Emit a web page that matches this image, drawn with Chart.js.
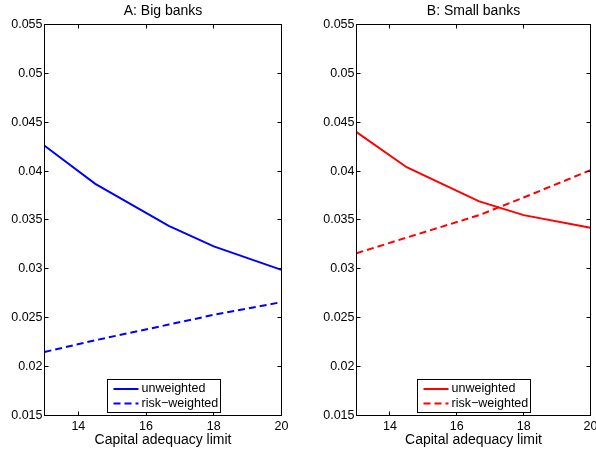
<!DOCTYPE html>
<html><head><meta charset="utf-8">
<script src="https://cdn.jsdelivr.net/npm/chart.js@4"></script>
<style>
html,body{margin:0;padding:0;overflow:hidden;background:#fff;width:596px;height:455px;position:relative}
canvas{position:absolute;top:0}
</style></head>
<body>
<canvas id="cA" width="298" height="455" style="left:0;width:298px;height:455px"></canvas>
<canvas id="cB" width="312" height="455" style="left:298px;width:312px;height:455px"></canvas>
<script>
// ---- data ----
const capitalLimit = [13, 14.5, 16.67, 18, 20];
const bigUnweighted = [0.0426, 0.0387, 0.0344, 0.0323, 0.0299];
const bigRiskWeighted = [0.0215, 0.0227, 0.0243, 0.0253, 0.0266];
const smallUnweighted = [0.0440, 0.0404, 0.0369, 0.0355, 0.0342];
const smallRiskWeighted = [0.0316, 0.0332, 0.0355, 0.0373, 0.0401];
const xTicks = [14, 16, 18, 20];
const yTicks = [0.015, 0.02, 0.025, 0.03, 0.035, 0.04, 0.045, 0.05, 0.055];
const yTickLabels = ['0.015','0.02','0.025','0.03','0.035','0.04','0.045','0.05','0.055'];
const panelTitles = ['A: Big banks', 'B: Small banks'];
const seriesLabels = ['unweighted', 'risk\u2212weighted'];
const xAxisTitle = 'Capital adequacy limit';

const FONT = '"Liberation Sans", Arial, Helvetica, sans-serif';
const DASH = [7, 4];

const framePlugin = {
  id: 'frame',
  afterDraw(chart, args, opts) {
    const {ctx, chartArea: a, scales: {x, y}} = chart;
    ctx.save();
    ctx.strokeStyle = '#000';
    ctx.lineWidth = 1;
    ctx.setLineDash([]);
    ctx.strokeRect(a.left, a.top, a.right - a.left, a.bottom - a.top);
    const tl = 4;
    ctx.beginPath();
    xTicks.forEach(v => {
      const px = Math.round(x.getPixelForValue(v) - 0.5) + 0.5;
      ctx.moveTo(px, a.bottom); ctx.lineTo(px, a.bottom - tl);
      ctx.moveTo(px, a.top); ctx.lineTo(px, a.top + tl);
    });
    yTicks.forEach(v => {
      const py = Math.round(y.getPixelForValue(v) - 0.5) + 0.5;
      ctx.moveTo(a.left, py); ctx.lineTo(a.left + tl, py);
      ctx.moveTo(a.right, py); ctx.lineTo(a.right - tl, py);
    });
    ctx.stroke();
    // title
    ctx.fillStyle = '#000';
    ctx.font = '14px ' + FONT;
    ctx.textAlign = 'center';
    ctx.textBaseline = 'alphabetic';
    ctx.fillText(opts.title, (a.left + a.right) / 2, 15);
    // legend
    const bw = 113, bh = 33;
    const bx = Math.round((a.left + a.right) / 2 - bw / 2) + 0.5;
    const by = Math.round(a.bottom - 4 - bh) + 0.5;
    ctx.fillStyle = '#fff';
    ctx.fillRect(bx, by, bw, bh);
    ctx.strokeStyle = '#000';
    ctx.strokeRect(bx, by, bw, bh);
    ctx.font = '12.5px ' + FONT;
    ctx.textAlign = 'left';
    ctx.textBaseline = 'middle';
    chart.data.datasets.forEach((ds, i) => {
      const ry = by + 9.5 + i * 14.5;
      ctx.strokeStyle = ds.borderColor;
      ctx.lineWidth = 2;
      ctx.setLineDash(ds.borderDash || []);
      ctx.beginPath();
      ctx.moveTo(bx + 6, ry); ctx.lineTo(bx + 31, ry);
      ctx.stroke();
      ctx.setLineDash([]);
      ctx.fillStyle = '#000';
      ctx.fillText(ds.label, bx + 34, ry);
    });
    ctx.restore();
  }
};

function makeChart(id, title, color, unw, rw, yWidth, padRight) {
  const toPts = vals => capitalLimit.map((xv, i) => ({x: xv, y: vals[i]}));
  return new Chart(document.getElementById(id), {
    type: 'line',
    data: {
      datasets: [
        {label: seriesLabels[0], data: toPts(unw), borderColor: color, borderWidth: 2,
         pointRadius: 0, tension: 0, fill: false},
        {label: seriesLabels[1], data: toPts(rw), borderColor: color, borderWidth: 2,
         borderDash: DASH, pointRadius: 0, tension: 0, fill: false}
      ]
    },
    options: {
      responsive: false,
      animation: false,
      devicePixelRatio: 1,
      layout: {padding: {left: 0, top: 24.5, right: padRight, bottom: 0}},
      plugins: {legend: {display: false}, tooltip: {enabled: false}, frame: {title: title}},
      scales: {
        x: {
          type: 'linear', min: 13, max: 20,
          grid: {display: false, drawTicks: false},
          border: {display: false},
          afterBuildTicks: s => { s.ticks = xTicks.map(v => ({value: v})); },
          afterFit: s => { s.height = 39.5; },
          ticks: {font: {family: FONT, size: 12.5}, color: '#000', padding: 4, maxRotation: 0,
                  callback: v => String(v)},
          title: {display: true, text: xAxisTitle, color: '#000',
                  font: {family: FONT, size: 14, lineHeight: 1.2}, padding: {top: 0, bottom: 6.6}}
        },
        y: {
          type: 'linear', min: 0.015, max: 0.055,
          grid: {display: false, drawTicks: false},
          border: {display: false},
          afterBuildTicks: s => { s.ticks = yTicks.map(v => ({value: v})); },
          afterFit: s => { s.width = yWidth; },
          ticks: {font: {family: FONT, size: 12.5}, color: '#000', padding: 2,
                  callback: (v, i) => yTickLabels[i]}
        }
      }
    },
    plugins: [framePlugin]
  });
}

makeChart('cA', panelTitles[0], '#0000ff', bigUnweighted, bigRiskWeighted, 44.5, 16.5);
makeChart('cB', panelTitles[1], '#ff0000', smallUnweighted, smallRiskWeighted, 58.5, 19.5);
</script>
</body></html>
